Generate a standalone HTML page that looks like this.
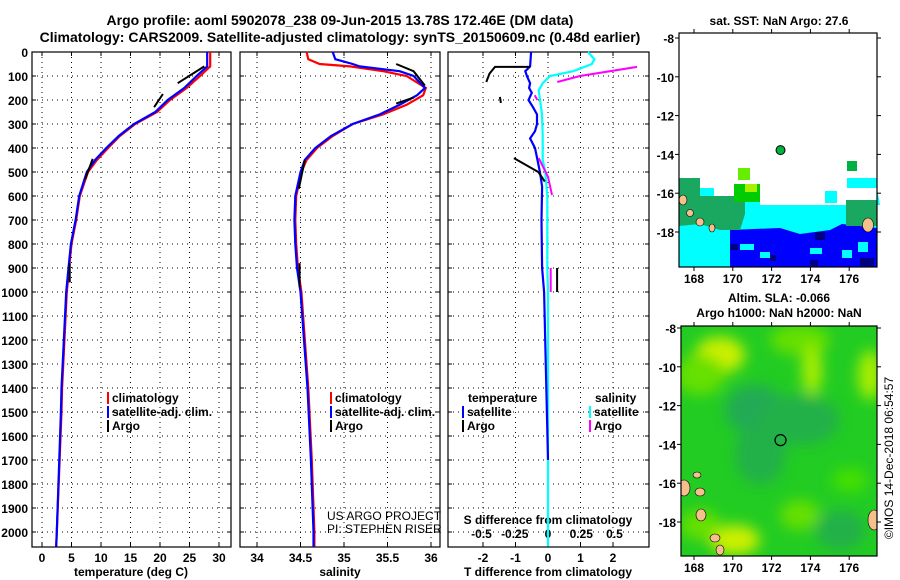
<!DOCTYPE html>
<html><head><meta charset="utf-8"><style>
body{margin:0;background:#fff;}
svg{display:block;font-family:"Liberation Sans",sans-serif;}
.t{font-weight:bold;font-size:12px;fill:#000}
</style></head><body>
<svg id="c" width="900" height="580" viewBox="0 0 900 580">
<text x="340" y="25" text-anchor="middle" class="t" style="font-size:14px">Argo profile: aoml 5902078_238 09-Jun-2015 13.78S 172.46E (DM data)</text>
<text x="340" y="42" text-anchor="middle" class="t" style="font-size:14px">Climatology: CARS2009. Satellite-adjusted climatology: synTS_20150609.nc (0.48d earlier)</text>
<g id="g"></g>
</svg>
<script>
// ---------- data ----------
const depthTicks=[0,100,200,300,400,500,600,700,800,900,1000,1100,1200,1300,1400,1500,1600,1700,1800,1900,2000];
const tTicks=[0,5,10,15,20,25,30];
const sTicks=[34,34.5,35,35.5,36];
const sTickLabels=["34","34.5","35","35.5","36"];
const dtTicks=[-2,-1,0,1,2];
const dsTicks=[-0.5,-0.25,0,0.25,0.5];
const dsTickLabels=["-0.5","-0.25","0","0.25","0.5"];
const climDepth=[0,60,100,150,200,250,300,350,400,450,500,600,700,800,900,1000,1400,1500,2000,2060];
const climTemp=[28.5,28.5,26.8,24.5,21.7,19.5,15.8,13.2,11.2,9.3,7.8,6.4,5.8,5.0,4.6,4.2,3.4,3.3,2.5,2.4];
const satTemp=[28.0,28.0,26.2,24.1,21.3,19.2,15.6,13.0,10.9,9.0,7.6,6.3,5.7,4.9,4.5,4.1,3.3,3.2,2.5,2.4];
const argoTempSegs=[[[60,27.5],[130,23]],[[175,20.5],[230,19]],[[445,8.6],[530,7.3]],[[880,4.7],[960,4.7]]];
const salDepth=[0,30,50,60,80,100,150,180,220,260,300,350,400,450,500,600,700,800,900,1000,1400,1700,2000,2060];
const climSal=[34.57,34.59,34.72,35.07,35.45,35.72,35.94,35.91,35.72,35.45,35.10,34.87,34.69,34.57,34.51,34.45,34.44,34.45,34.47,34.51,34.59,34.63,34.66,34.66];
const satSal=[34.87,34.90,35.10,35.18,35.64,35.80,35.93,35.84,35.64,35.41,35.10,34.85,34.67,34.55,34.50,34.44,34.43,34.44,34.46,34.50,34.58,34.62,34.65,34.65];
const argoSalSegs=[[[50,35.6],[80,35.8],[140,35.93]],[[190,35.8],[215,35.6]],[[450,34.55],[570,34.48]],[[880,34.49],[980,34.49]]];
const dTDepth=[0,60,80,100,130,150,170,200,230,260,300,330,360,400,440,500,560,700,900,1000,1700];
const dTsat=[-0.52,-0.55,-0.7,-0.65,-0.55,-0.58,-0.5,-0.6,-0.46,-0.34,-0.34,-0.4,-0.55,-0.4,-0.34,-0.25,-0.18,-0.2,-0.18,-0.12,0];
const dTargoSegs=[[[62,-0.55],[62,-1.63],[90,-1.8],[125,-1.9]],[[187,-1.48],[212,-1.45]],[[442,-1.05],[500,-0.3],[540,-0.1]],[[900,0.28],[1000,0.28]]];
const dSDepth=[0,30,50,80,100,130,160,200,260,350,450,500,600,900,1000,2060];
const dSsat=[0.3,0.35,0.33,0.19,0.015,-0.04,-0.07,-0.06,-0.045,-0.04,-0.04,-0.02,-0.005,-0.005,0,0];
const dSargoSegs=[[[62,0.67],[100,0.24],[125,0.07]],[[180,-0.1],[200,-0.08]],[[442,-0.07],[520,0.0],[596,0.03]],[[900,0.02],[1000,0.02]]];
const mapLonTicks=[168,170,172,174,176];
const mapLatTicks=[-8,-10,-12,-14,-16,-18];
const argoLon=172.46, argoLat=-13.78;

// ---------- helpers ----------
const NS="http://www.w3.org/2000/svg";
const G=document.getElementById('g');
function el(tag,attrs,parent){const e=document.createElementNS(NS,tag);for(const k in attrs)e.setAttribute(k,attrs[k]);(parent||G).appendChild(e);return e;}
const Y0=52, PX100=24, YB=547;
const yD=d=>Y0+d*PX100/100;
const xT=t=>42+t*5.9;
const xS=s=>257+(s-34)*87;
const xDT=v=>548+v*32.5;
const xDS=v=>548+v*133;
const panels=[[32,231],[240,440],[448,649]];

function frame(x0,x1,vals,xf,name){
  const g=el('g',{});
  
  
  depthTicks.forEach(d=>{const y=yD(d);el('line',{x1:x0,x2:x1,y1:y,y2:y,stroke:'#000','stroke-width':1,'stroke-dasharray':'1,4'},g);
    el('line',{x1:x0,x2:x0+4,y1:y,y2:y,stroke:'#000'},g);el('line',{x1:x1-4,x2:x1,y1:y,y2:y,stroke:'#000'},g);});
  vals.forEach(v=>{const x=xf(v);el('line',{x1:x,x2:x,y1:Y0,y2:YB,stroke:'#000','stroke-dasharray':'1,4'},g);
    el('line',{x1:x,x2:x,y1:YB-4,y2:YB,stroke:'#000'},g);el('line',{x1:x,x2:x,y1:Y0,y2:Y0+4,stroke:'#000'},g);});
  el('rect',{x:x0,y:Y0,width:x1-x0,height:YB-Y0,fill:'none',stroke:'#000','stroke-width':1.2},g);
  return g;
}
function line(xs,ds,xf,col,w,name){
  const p=el('polyline',{points:xs.map((v,i)=>xf(v).toFixed(1)+','+yD(ds[i]).toFixed(1)).join(' '),fill:'none',stroke:col,'stroke-width':w});
  
  
}
function segs(sg,xf,col,name){sg.forEach(s=>{const p=el('polyline',{points:s.map(q=>xf(q[1]).toFixed(1)+','+yD(q[0]).toFixed(1)).join(' '),fill:'none',stroke:col,'stroke-width':2});
  
  });}
function txt(x,y,s,anchor,name,extra){const t=el('text',Object.assign({x:x,y:y,'text-anchor':anchor||'start',class:'t'},extra||{}));t.textContent=s;
  
  return t;}

// y tick labels
depthTicks.forEach(d=>txt(28,yD(d)+5,String(d),'end','depth-tick-label'));

// panel 1
frame(32,231,tTicks,xT,'temperature-panel');
tTicks.forEach(v=>txt(xT(v),562,String(v),'middle','temperature-tick-label'));
txt(131,576,'temperature (deg C)','middle','temperature-axis-title');
line(climTemp,climDepth,xT,'#ff0000',2.2,'temperature-climatology-line');
line(satTemp,climDepth,xT,'#0000ff',2.2,'temperature-satellite-line');
segs(argoTempSegs,xT,'#000','temperature-argo-segment');
// panel 2
frame(240,440,sTicks,xS,'salinity-panel');
sTicks.forEach((v,i)=>txt(xS(v),562,sTickLabels[i],'middle','salinity-tick-label'));
txt(340,576,'salinity','middle','salinity-axis-title');
line(climSal,salDepth,xS,'#ff0000',2.2,'salinity-climatology-line');
line(satSal,salDepth,xS,'#0000ff',2.2,'salinity-satellite-line');
segs(argoSalSegs,xS,'#000','salinity-argo-segment');
// panel 3
frame(448,649,dtTicks,xDT,'difference-panel');
dtTicks.forEach(v=>txt(xDT(v),562,String(v),'middle','t-difference-tick-label'));
txt(548,576,'T difference from climatology','middle','t-difference-axis-title');
dsTicks.forEach((v,i)=>txt(xDS(v),538,dsTickLabels[i],'middle','s-difference-tick-label'));
txt(548,524,'S difference from climatology','middle','s-difference-axis-title');
line(dSsat,dSDepth,xDS,'#00ffff',2.2,'salinity-difference-satellite-line');
line(dTsat,dTDepth,xDT,'#0000ff',2.2,'temperature-difference-satellite-line');
segs(dTargoSegs,xDT,'#000','temperature-difference-argo-segment');
segs(dSargoSegs,xDS,'#ff00ff','salinity-difference-argo-segment');

// legends
function leg(x,y,col,label,name){const g=el('g',{});
  el('rect',{x:x,y:y-10,width:2,height:12,fill:col},g);const t=el('text',{x:x+5,y:y,class:'t'},g);t.textContent=label;}
leg(107,402,'#ff0000','climatology','legend-entry-climatology');
leg(107,416,'#0000ff','satellite-adj. clim.','legend-entry-satellite');
leg(107,430,'#000','Argo','legend-entry-argo');
leg(330,402,'#ff0000','climatology','legend-entry-climatology');
leg(330,416,'#0000ff','satellite-adj. clim.','legend-entry-satellite');
leg(330,430,'#000','Argo','legend-entry-argo');
txt(468,402,'temperature','start','legend-header-temperature');
leg(462,416,'#0000ff','satellite','legend-entry-t-satellite');
leg(462,430,'#000','Argo','legend-entry-t-argo');
txt(595,402,'salinity','start','legend-header-salinity');
leg(589,416,'#00ffff','satellite','legend-entry-s-satellite');
leg(589,430,'#ff00ff','Argo','legend-entry-s-argo');
txt(327,520,'US ARGO PROJECT','start','project-credit',{style:'font-weight:normal;font-size:12px'});
txt(327,533,'PI: STEPHEN RISER','start','pi-credit',{style:'font-weight:normal;font-size:12px'});

// ---------- maps ----------
function mapFrame(x0,y0,x1,y1,lat0,name){
  const xl=lon=>694+(lon-168)*19.4, yl=lat=>lat0+(-8-lat)*19.4*-1*-1;
  return {xl:xl,yl:lat=>lat0+(-8-lat)*19.4};
}
// map 1 (SST)
const m1={x0:679,y0:33,x1:877,y1:267,lat8:38};
const m2={x0:681,y0:326,x1:877,y1:556,lat8:328};
function axes(m,name){
  const xl=lon=>694+(lon-168)*19.4, yl=lat=>m.lat8+(-8-lat)*19.4;
  const g=el('g',{});
  el('rect',{x:m.x0,y:m.y0,width:m.x1-m.x0,height:m.y1-m.y0,fill:'none',stroke:'#000','stroke-width':1.2},g);
  mapLonTicks.forEach(v=>{const x=xl(v);el('line',{x1:x,x2:x,y1:m.y1,y2:m.y1+4,stroke:'#000'},g);el('line',{x1:x,x2:x,y1:m.y0-4,y2:m.y0,stroke:'#000'},g);
    const t=el('text',{x:x,y:m.y1+16,'text-anchor':'middle',class:'t'},g);t.textContent=String(v);});
  mapLatTicks.forEach(v=>{const y=yl(v);el('line',{x1:m.x0-4,x2:m.x0,y1:y,y2:y,stroke:'#000'},g);el('line',{x1:m.x1,x2:m.x1+4,y1:y,y2:y,stroke:'#000'},g);
    const t=el('text',{x:m.x0-5,y:y+5,'text-anchor':'end',class:'t'},g);t.textContent=String(v);});
  return {xl,yl};
}
const s1=el('g',{});


el('rect',{x:679,y:33,width:198,height:234,fill:'#fff'},s1);
el('polygon',{points:'679,178 700,178 700,188 714,188 714,196 760,196 760,205 880,205 877,188 847,188 847,178 877,178 877,267 679,267',fill:'#00ffff'},s1);
el('rect',{x:825,y:191,width:12,height:12,fill:'#00ffff'},s1);
el('polygon',{points:'730,230 780,228 800,234 815,232 830,230 842,224 860,226 877,228 877,267 730,267',fill:'#0000ff'},s1);
[[740,244,14,6],[760,252,10,6],[810,248,12,6],[842,250,10,8],[858,242,10,10]].forEach(r=>el('rect',{x:r[0],y:r[1],width:r[2],height:r[3],fill:'#00ffff'},s1));
[[730,244,8,6],[770,255,6,6],[810,260,8,6],[815,232,10,8],[860,258,14,8]].forEach(r=>el('rect',{x:r[0],y:r[1],width:r[2],height:r[3],fill:'#000080'},s1));
el('polygon',{points:'679,178 700,178 700,196 745,196 745,214 740,230 720,230 700,224 679,226',fill:'#1aa860'},s1);
el('rect',{x:738,y:168,width:12,height:12,fill:'#66ee00'},s1);
el('rect',{x:734,y:184,width:26,height:18,fill:'#00cc00'},s1);
el('rect',{x:745,y:184,width:12,height:8,fill:'#aaee00'},s1);
el('rect',{x:847,y:161,width:10,height:10,fill:'#00b040'},s1);
el('rect',{x:846,y:200,width:31,height:26,fill:'#1aa860'},s1);
[[683,200,6,8],[690,213,5,5],[700,222,6,6],[712,228,4,6],[868,225,9,12]].forEach(r=>el('ellipse',{cx:r[0],cy:r[1],rx:r[2]/2+1,ry:r[3]/2+1,fill:'#f5c08c',stroke:'#000','stroke-width':0.6},s1));
const a1=axes(m1,'sst-map-axes');
el('circle',{cx:a1.xl(argoLon),cy:a1.yl(argoLat),r:4.5,fill:'#00b040',stroke:'#000','stroke-width':1});
txt(779,25,'sat. SST: NaN Argo: 27.6','middle','sst-map-title');

// map 2 (SLA)
const defs=el('defs',{});
defs.innerHTML='<filter id="bl"><feGaussianBlur stdDeviation="7"/></filter><clipPath id="cp"><rect x="681" y="326" width="196" height="230"/></clipPath>';
const s2=el('g',{'clip-path':'url(#cp)'});


el('rect',{x:681,y:326,width:196,height:230,fill:'#22cc22'},s2);
const bl=el('g',{filter:'url(#bl)'},s2);
[[720,355,25,18,'#ccf000'],[700,375,25,20,'#66e000'],[800,340,30,15,'#66e000'],[812,370,10,25,'#aaee00'],[870,375,12,25,'#aaee00'],[755,410,30,25,'#22aa55'],[800,420,40,25,'#22b048'],[760,455,25,30,'#22b048'],[735,540,25,15,'#ccf000'],[700,525,20,15,'#66e000'],[840,530,25,20,'#22b048'],[850,480,18,12,'#44e000'],[800,515,20,15,'#66e000']].forEach(b=>el('ellipse',{cx:b[0],cy:b[1],rx:b[2],ry:b[3],fill:b[4]},bl));
[[684,488,6,8],[697,475,4,3],[700,492,5,4],[701,515,5,6],[715,538,5,4],[720,550,4,5],[874,520,6,10]].forEach(r=>el('ellipse',{cx:r[0],cy:r[1],rx:r[2],ry:r[3],fill:'#f5c08c',stroke:'#000','stroke-width':0.6},s2));
const a2=axes(m2,'sla-map-axes');
el('circle',{cx:a2.xl(argoLon),cy:a2.yl(argoLat),r:5.5,fill:'none',stroke:'#000','stroke-width':1.2});
txt(779,302,'Altim. SLA: -0.066','middle','sla-map-title-1');
txt(779,317,'Argo h1000: NaN h2000: NaN','middle','sla-map-title-2');
txt(0,0,'©IMOS 14-Dec-2018 06:54:57','middle','imos-timestamp',{transform:'translate(893,458) rotate(-90)',style:'font-weight:normal;font-size:12px'});
</script>
</body></html>
